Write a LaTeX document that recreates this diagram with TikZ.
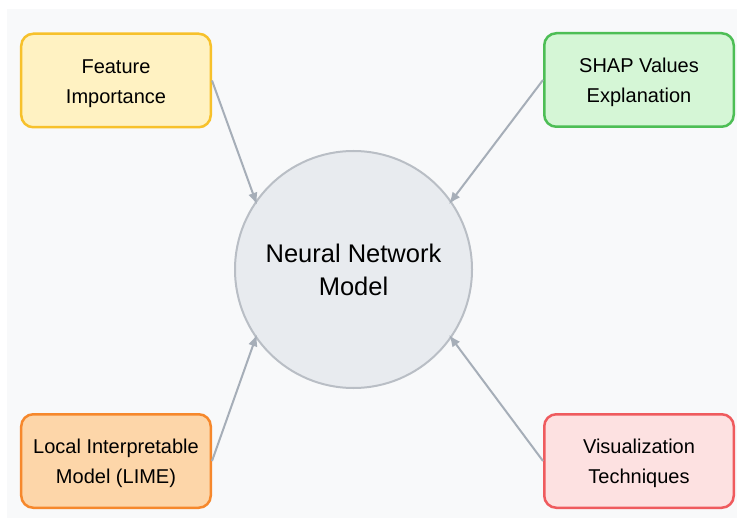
\documentclass[tikz,border=0pt]{standalone}
\usepackage{fontspec}
\setmainfont{Liberation Sans}
\usetikzlibrary{arrows.meta,calc}
\definecolor{bgpanel}{HTML}{F8F9FA}
\definecolor{circfill}{HTML}{E8EBEF}
\definecolor{circline}{HTML}{B9BEC5}
\definecolor{arrowcol}{HTML}{A6AEB8}
\definecolor{fiFill}{HTML}{FFF2C2}
\definecolor{fiLine}{HTML}{F7C12B}
\definecolor{shFill}{HTML}{D5F6D6}
\definecolor{shLine}{HTML}{4DBE55}
\definecolor{liFill}{HTML}{FDD6A9}
\definecolor{liLine}{HTML}{F6882C}
\definecolor{viFill}{HTML}{FDE1E1}
\definecolor{viLine}{HTML}{EF5B5E}
\newcommand{\lowerstrut}{\rule{0pt}{20bp}}
\tikzset{
  infobox/.style={draw, line width=2.5bp, rounded corners=12bp, minimum width=189.5bp, minimum height=93.5bp,
    align=center, inner sep=0pt, font=\fontsize{20bp}{30bp}\selectfont, text=black},
  core/.style={circle, draw=circline, fill=circfill, line width=2bp, minimum size=237bp, inner sep=0pt,
    align=center, font=\fontsize{25.5bp}{33bp}\selectfont},
  link/.style={draw=arrowcol, line width=2bp, -{Latex[length=12bp,width=9.5bp]}}
}
\begin{document}
\begin{tikzpicture}[x=1bp,y=-1bp]
\useasboundingbox (0,0) rectangle (737,518);
\fill[white] (0,0) rectangle (737,518);
\fill[bgpanel] (7,9) rectangle (737,518);
\node[core] (c) at (353.5,269.5) {Neural Network\\Model};
\node[infobox, draw=fiLine, fill=fiFill] (fi) at (116,80.5) {\lowerstrut Feature\\Importance};
\node[infobox, draw=shLine, fill=shFill] (sh) at (639,80) {\lowerstrut SHAP Values\\Explanation};
\node[infobox, draw=liLine, fill=liFill] (li) at (116,461) {\lowerstrut Local Interpretable\\Model (LIME)};
\node[infobox, draw=viLine, fill=viFill] (vi) at (639,461) {\lowerstrut Visualization\\Techniques};
\draw[link, shorten >=-4bp] (fi.east) -- (c.145);
\draw[link, shorten >=-4bp] (sh.west) -- (c.35);
\draw[link, shorten >=-4bp] (li.east) -- (c.215);
\draw[link, shorten >=-4bp] (vi.west) -- (c.325);
\end{tikzpicture}
\end{document}
